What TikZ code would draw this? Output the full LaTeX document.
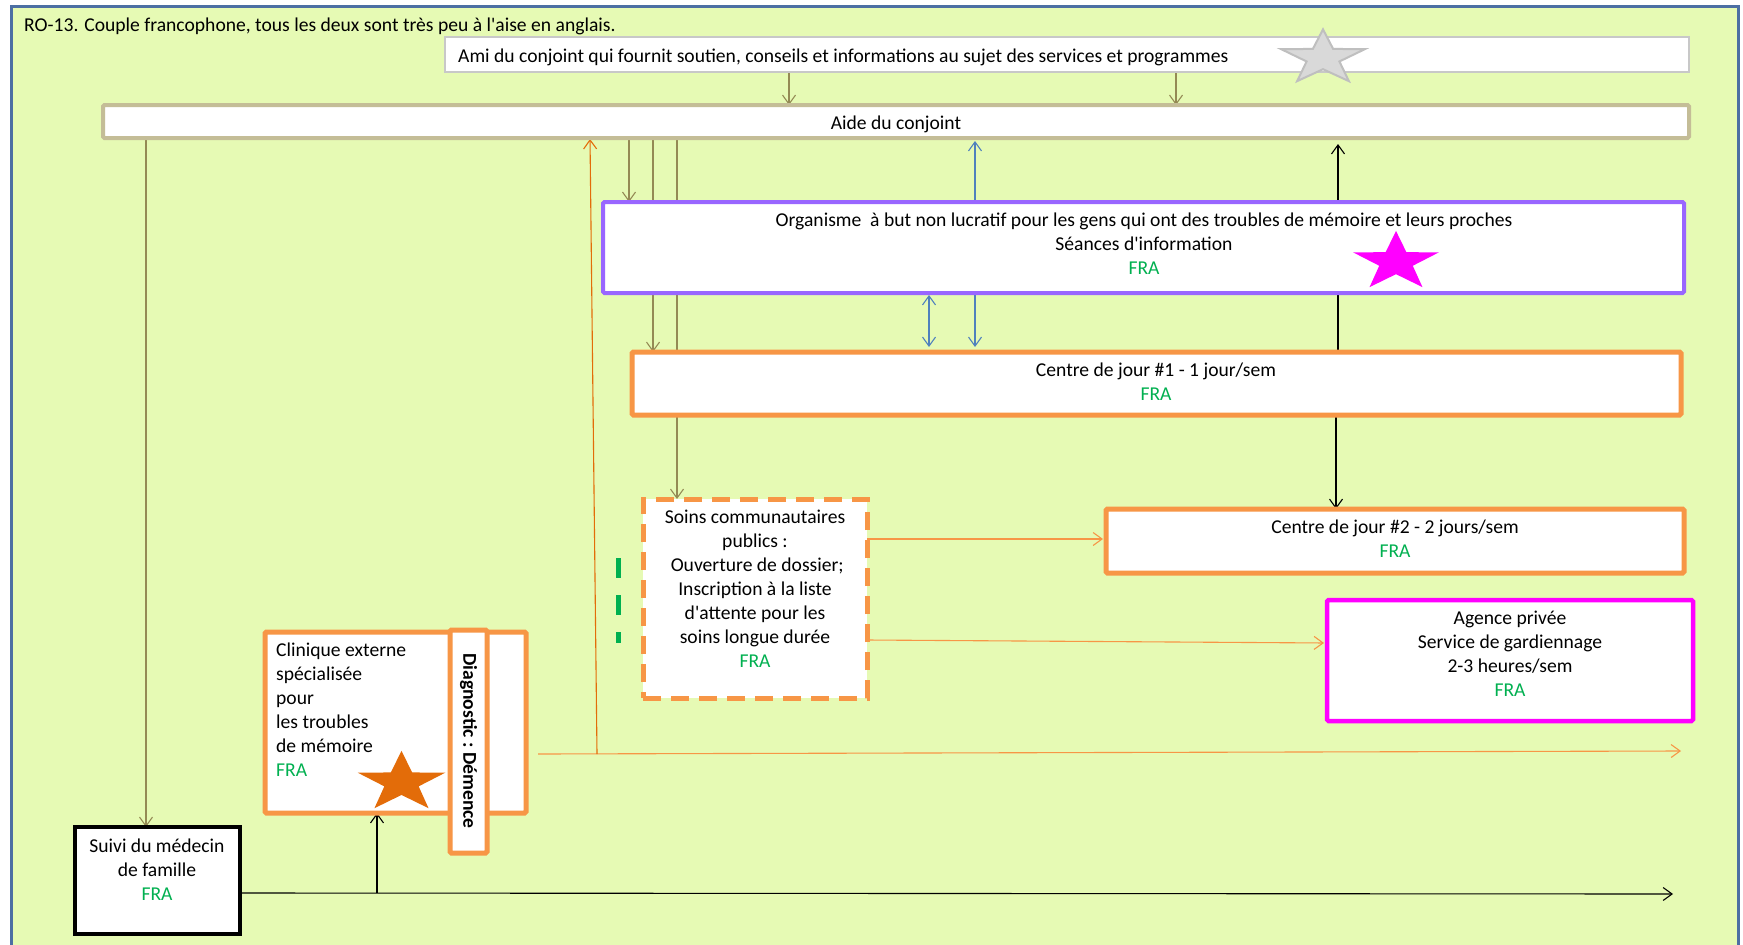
\documentclass[tikz,border=0pt]{standalone}
\usepackage{fontspec}
\setmainfont{Carlito}
\usetikzlibrary{arrows.meta,shapes.geometric}
\definecolor{bgc}{HTML}{E6FAB4}
\definecolor{framec}{HTML}{4C6FA3}
\definecolor{tanc}{HTML}{C4BD97}
\definecolor{amic}{HTML}{C8C8C8}
\definecolor{purpc}{HTML}{9966FF}
\definecolor{orc}{HTML}{F79646}
\definecolor{dorc}{HTML}{E36C09}
\definecolor{magc}{HTML}{FF00FF}
\definecolor{olvc}{HTML}{948A54}
\definecolor{bluc}{HTML}{4F81BD}
\definecolor{frac}{HTML}{00B050}
\definecolor{starg}{HTML}{D9D9D9}
\definecolor{stargb}{HTML}{BFBFBF}
\pgfdeclarelayer{back}\pgfdeclarelayer{edges}
\pgfsetlayers{back,edges,main}
\newcommand{\fra}{\textcolor{frac}{FRA}}
\newcommand{\ap}{\textquotesingle}
\begin{document}
\begin{tikzpicture}[x=1pt,y=-1pt,
  font=\fontsize{19.6}{24}\selectfont,
  >={Straight Barb[length=9pt,width=13pt]},
  box/.style={draw, fill=white, rounded corners=1.5pt, inner sep=0pt, outer sep=0pt},
  txt/.style={align=center, inner sep=0pt},
  conn/.style={line width=1.1pt},
  olv/.style={conn, draw=olvc},
  blu/.style={conn, draw=bluc},
  blk/.style={conn, draw=black},
  orl/.style={conn, draw=orc},
  dor/.style={conn, draw=dorc},
  mystar/.style={star, star points=5, star point ratio=2.55, inner sep=0pt, transform shape}
]
\useasboundingbox (0,0) rectangle (1743,945);
\begin{pgfonlayer}{back}
\fill[white] (0,0) rectangle (1743,945);
\draw[fill=bgc, draw=framec, line width=3pt] (11,6) rectangle (1738,960);
\end{pgfonlayer}

\node[txt, anchor=west] (title) at (24,26.5) {RO-13. Couple francophone, tous les deux sont très peu à l\ap aise en anglais.};

% boxes
\node[box, draw=amic, line width=1.5pt, rounded corners=0pt, minimum width=1244pt, minimum height=35pt] (ami) at (1067,54.5) {};
\node[txt, anchor=west] (amit) at (458,57.5) {Ami du conjoint qui fournit soutien, conseils et informations au sujet des services et programmes};
\node[mystar, fill=starg, draw=stargb, line width=2pt, minimum size=88pt, yscale=0.65] (sg) at (1323,58) {};

\node[box, draw=tanc, line width=4pt, minimum width=1586pt, minimum height=33pt] (aide) at (896,121.5) {};
\node[txt] (aidet) at (896,124) {Aide du conjoint};

\node[box, draw=purpc, line width=4pt, minimum width=1081pt, minimum height=91pt] (org) at (1143.5,247.5) {};
\node[txt] (orgt) at (1144,243.5) {Organisme\ \ à but non lucratif pour les gens qui ont des troubles de mémoire et leurs proches\\Séances d\ap information\\\fra};
\node[mystar, fill=magc, minimum size=90pt, yscale=0.69] (sm) at (1396,262) {};

\node[box, draw=orc, line width=5pt, minimum width=1049pt, minimum height=63pt] (c1) at (1156.5,383.5) {};
\node[txt] (c1t) at (1156,382) {Centre de jour \#1 - 1 jour/sem\\\fra};

\node[box, draw=orc, line width=5pt, dash pattern=on 18pt off 10pt, rounded corners=0pt, minimum width=224pt, minimum height=199pt] (soins) at (755,598.5) {};
\node[txt] (soinst) at (755,588.5) {Soins communautaires\\publics :\\\ Ouverture de dossier;\\Inscription à la liste\\d\ap attente pour les\\soins longue durée\\\fra};

\node[box, draw=orc, line width=5pt, minimum width=578pt, minimum height=64pt] (c2) at (1395,541) {};
\node[txt] (c2t) at (1395,539) {Centre de jour \#2 - 2 jours/sem\\\fra};

\node[box, draw=magc, line width=4.5pt, minimum width=366pt, minimum height=121pt] (ag) at (1510,660.5) {};
\node[txt] (agt) at (1510,653.5) {Agence privée\\Service de gardiennage\\2-3 heures/sem\\\fra};

\node[box, draw=orc, line width=5pt, minimum width=261pt, minimum height=181pt] (cl) at (395.5,722.5) {};
\node[txt, align=left, anchor=west] (clt) at (276,709.5) {Clinique externe\\spécialisée\\pour\\les troubles\\de mémoire\\\fra};
\node[mystar, fill=dorc, minimum size=92pt, yscale=0.69] (so) at (401.5,782.5) {};
\node[box, draw=orc, line width=5pt, minimum width=37pt, minimum height=223pt] (diag) at (468.5,741.5) {};
\node[txt, rotate=-90, font=\fontsize{19.6}{24}\selectfont\bfseries] (diagt) at (468.5,741) {Diagnostic :\ Démence};

\node[box, draw=black, line width=4pt, rounded corners=0pt, minimum width=165pt, minimum height=107pt] (suivi) at (157.5,880.5) {};
\node[txt] (suivit) at (157,869.5) {Suivi du médecin\\de famille\\\fra};

% free coordinates
\coordinate (oStart) at (538,754);
\coordinate (oBranch) at (597,754);
\coordinate (oEnd) at (1681,751);
\coordinate (kBranch) at (377,893);
\coordinate (kEnd) at (1673,894);

\begin{pgfonlayer}{edges}
\draw[olv,->] (ami.south -| 789,0) -- (aide.north -| 789,0);
\draw[olv,->] (ami.south -| 1176,0) -- (aide.north -| 1176,0);
\draw[olv,->] (aide.south -| 146,0) -- (suivi.north -| 146,0);
\draw[olv,->] (aide.south -| 629,0) -- (org.north -| 629,0);
\draw[olv,->] (aide.south -| 653,0) -- (c1.north -| 653,0);
\draw[olv,->] (aide.south -| 677,0) -- (soins.north -| 677,0);
\draw[blu,<->,shorten <=3pt,shorten >=5pt] (aide.south -| 975,0) -- (c1.north -| 975,0);
\draw[blu,<->,shorten <=2pt,shorten >=5pt] (org.south -| 929,0) -- (c1.north -| 929,0);
\draw[blk,->,shorten >=6pt] (c1.north -| 1338,0) -- (aide.south -| 1338,0);
\draw[blk,->] (c1.south -| 1336,0) -- (c2.north -| 1336,0);
\draw[orl,->,shorten >=3pt] (soins.east |- 0,539) -- (c2.west |- 0,539);
\draw[orl,->,shorten >=3pt] (soins.east |- 0,640) -- (ag.west |- 0,643);
\draw[orl,->] (oStart) -- (oEnd);
\draw[dor,->,shorten >=1pt] (oBranch) -- (aide.south -| 590,0);
\draw[blk,->] (suivi.east |- 0,893) -- (kEnd);
\draw[blk,->] (kBranch) -- (cl.south -| 377,0);
\draw[frac, line width=5pt, dash pattern=on 20pt off 17pt] (618,558) -- (618,643);
\end{pgfonlayer}
\end{tikzpicture}
\end{document}
